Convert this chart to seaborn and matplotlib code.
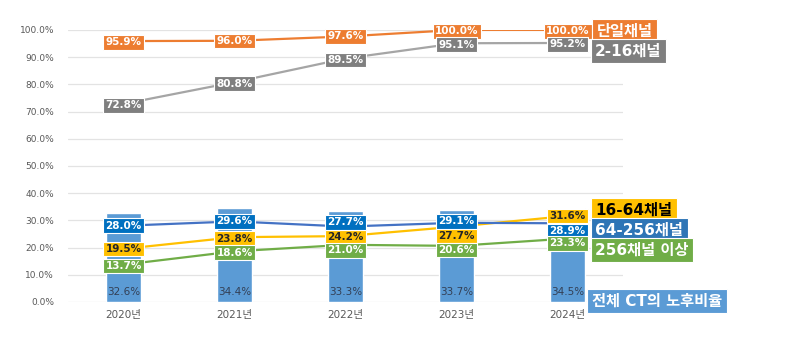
import matplotlib
matplotlib.use("Agg")
import matplotlib.pyplot as plt
import seaborn as sns
import pandas as pd

years = ["2020년", "2021년", "2022년", "2023년", "2024년"]
total_ct = [32.6, 34.4, 33.3, 33.7, 34.5]
single = [95.9, 96.0, 97.6, 100.0, 100.0]
ch2_16 = [72.8, 80.8, 89.5, 95.1, 95.2]
ch16_64 = [19.5, 23.8, 24.2, 27.7, 31.6]
ch64_256 = [28.0, 29.6, 27.7, 29.1, 28.9]
ch256_up = [13.7, 18.6, 21.0, 20.6, 23.3]
yticks = [0, 10, 20, 30, 40, 50, 60, 70, 80, 90, 100]

sns.set_theme(style="white")
plt.rcParams["font.family"] = ["DejaVu Sans", "Noto Sans CJK KR"]

fig = plt.figure(figsize=(8, 3.4), dpi=100)
ax = fig.add_axes([0.085, 0.112, 0.694, 0.800])

bar_df = pd.DataFrame({"year": years, "value": total_ct})
sns.barplot(data=bar_df, x="year", y="value", color="#5B9BD5", width=0.32,
            saturation=1, ax=ax, zorder=2)

series = [
    ("단일채널", single, "#ED7D31", "#ED7D31", "white", [-1, 0, 0, -1, -1]),
    ("2-16채널", ch2_16, "#A5A5A5", "#7F7F7F", "white", [-1, -1, -1, -1, -1]),
    ("16-64채널", ch16_64, "#FFC000", "#FFC000", "#262626", [0, -1, -1, -6.5, 0]),
    ("64-256채널", ch64_256, "#4472C4", "#0070C0", "white", [0, 0, 3, 1, -5.5]),
    ("256채널 이상", ch256_up, "#70AD47", "#70AD47", "white", [-1, -1, -4, -3, -3.5]),
]

long = []
for name, vals, lc, bc, tc, offs in series:
    for y, v in zip(years, vals):
        long.append({"year": y, "value": v, "series": name})
line_df = pd.DataFrame(long)
palette = {name: lc for name, vals, lc, bc, tc, offs in series}
sns.lineplot(data=line_df, x="year", y="value", hue="series", palette=palette,
             linewidth=1.6, legend=False, ax=ax, zorder=3)

for name, vals, lc, bc, tc, offs in series:
    for i, (v, o) in enumerate(zip(vals, offs)):
        ax.annotate(f"{v:.1f}%", (i, v), xytext=(0, o), textcoords="offset points",
                    ha="center", va="center", fontsize=7.5, fontweight="bold", color=tc,
                    bbox=dict(boxstyle="square,pad=0.22", fc=bc, ec="white", lw=0.8),
                    zorder=5)

for i, v in enumerate(total_ct):
    ax.annotate(f"{v:.1f}%", (i, 0), xytext=(0, 7.5), textcoords="offset points",
                ha="center", va="center", fontsize=7.5, color="#333F55", zorder=5)

ax.set_xlim(-0.5, 4.5)
ax.set_ylim(0, 100)
ax.set_yticks(yticks)
ax.set_yticklabels([f"{t:.1f}%" for t in yticks], fontsize=6.5, color="#595959")
ax.tick_params(axis="x", labelsize=7.5, labelcolor="#595959", length=0, pad=6)
ax.tick_params(axis="y", length=0, pad=10)
ax.set_xlabel("")
ax.set_ylabel("")
ax.grid(axis="y", color="#E3E3E3", linewidth=0.9, zorder=0)
ax.set_axisbelow(True)
for s in ax.spines.values():
    s.set_visible(False)

legend_items = [
    ("단일채널", "#ED7D31", "white", 0.746, 0.909),
    ("2-16채널", "#7F7F7F", "white", 0.744, 0.850),
    ("16-64채널", "#FFC000", "black", 0.744, 0.382),
    ("64-256채널", "#2E75B6", "white", 0.744, 0.324),
    ("256채널 이상", "#70AD47", "white", 0.744, 0.265),
    ("전체 CT의 노후비율", "#5B9BD5", "white", 0.740, 0.115),
]
for text, fc, tc, x, y in legend_items:
    fig.text(x, y, text, ha="left", va="center", fontsize=11, fontweight="bold",
             color=tc,
             bbox=dict(boxstyle="square,pad=0.3", fc=fc, ec="white", lw=0.8))

fig.savefig("out.png", dpi=100)
